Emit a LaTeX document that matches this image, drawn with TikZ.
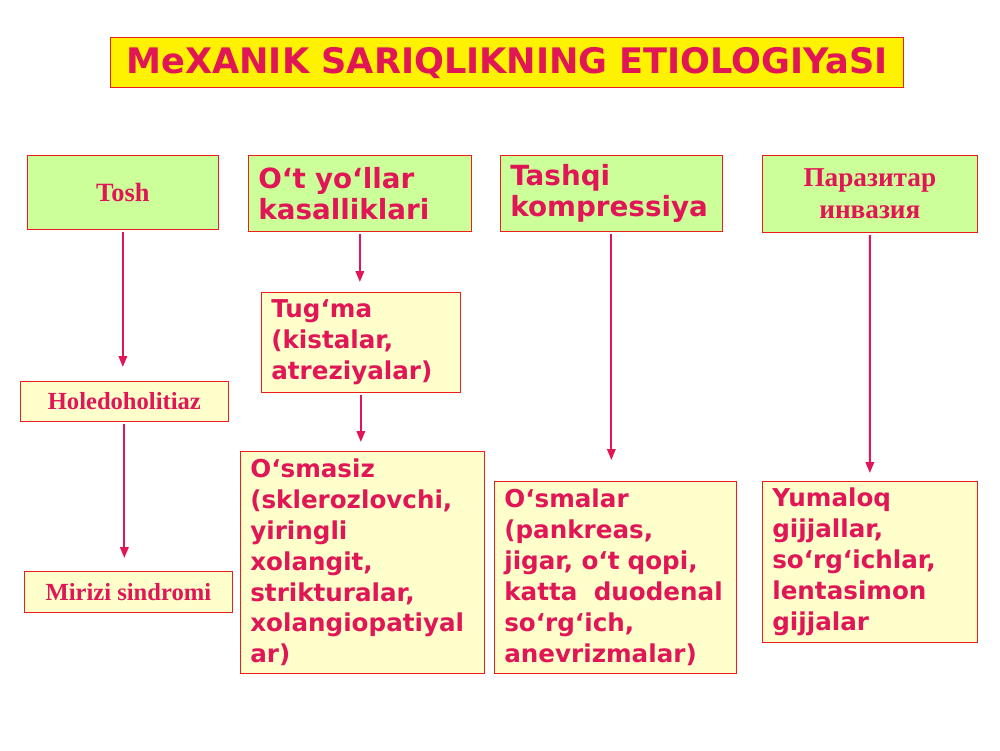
\documentclass[tikz,border=0pt]{standalone}
\usepackage{fontspec}
\setmainfont{Liberation Serif}
\newfontfamily\verd{DejaVu Sans}
\usepackage{tikz}
\usetikzlibrary{positioning,arrows.meta}

\definecolor{crim}{RGB}{224,22,86}
\definecolor{boxred}{RGB}{235,30,30}
\definecolor{lgreen}{RGB}{204,255,153}
\definecolor{lyellow}{RGB}{255,255,204}

\begin{document}
\begin{tikzpicture}[
  head/.style={draw=boxred, fill=lgreen, anchor=north west, text=crim, inner sep=0pt},
  leaf/.style={draw=boxred, fill=lyellow, anchor=north west, text=crim, inner sep=0pt},
  sans/.style={font=\verd\bfseries\fontsize{14}{17.6}\selectfont, align=left, inner xsep=0.2cm},
  serif/.style={font=\bfseries\fontsize{14}{17}\selectfont, align=center},
  arrow/.style={-{Triangle[length=0.22cm,width=0.17cm]}, draw=crim, line width=1.1pt, shorten <=0.05cm}
]
\useasboundingbox[fill=white] (0,0) rectangle (20,-15);

% Title
\node[draw=boxred, fill=yellow, thick, anchor=north west, minimum width=15.86cm, minimum height=1cm,
  text=crim, font=\verd\bfseries\fontsize{20}{22}\selectfont] (title) at (2.2,-0.74)
  {MeXANIK SARIQLIKNING ETIOLOGIYaSI};

% Top row
\node[head, serif, minimum width=3.82cm, minimum height=1.48cm, font=\bfseries\fontsize{15}{17}\selectfont] (tosh) at (0.54,-3.1) {Tosh};
\node[head, sans, text width=4.06cm, minimum height=1.52cm, font=\verd\bfseries\fontsize{15.8}{17.8}\selectfont] (otyol) at (4.96,-3.1) {O‘t yo‘llar\\kasalliklari};
\node[head, sans, text width=4.04cm, minimum height=1.52cm, font=\verd\bfseries\fontsize{15.8}{17.8}\selectfont] (tashqi) at (10.0,-3.1) {Tashqi\\kompressiya};
\node[head, serif, minimum width=4.3cm, minimum height=1.54cm, font=\bfseries\fontsize{15.5}{18}\selectfont] (paraz) at (15.24,-3.1) {Паразитар\\инвазия};

% Stone column
\node[leaf, serif, minimum width=4.16cm, minimum height=0.8cm] (holed) at (0.4,-7.62) {Holedoholitiaz};
\node[leaf, serif, minimum width=4.16cm, minimum height=0.82cm] (mirizi) at (0.48,-11.42) {Mirizi sindromi};

% Bile duct column
\node[leaf, sans, text width=3.58cm, minimum height=2.0cm, yshift=-0.06cm] (tugma) at (5.22,-5.78) {Tug‘ma\\(kistalar,\\atreziyalar)};
\node[leaf, sans, text width=4.48cm, minimum height=4.44cm] (osmasiz) at (4.8,-9.02)
  {O‘smasiz\\(sklerozlovchi,\\yiringli\\xolangit,\\strikturalar,\\xolangiopatiyal\\ar)};

% Compression and parasites
\node[leaf, sans, text width=4.44cm, minimum height=3.84cm] (osmalar) at (9.88,-9.62)
  {O‘smalar\\(pankreas,\\jigar, o‘t qopi,\\katta~ duodenal\\so‘rg‘ich,\\anevrizmalar)};
\node[leaf, sans, text width=3.9cm, minimum height=3.22cm] (yumaloq) at (15.24,-9.62)
  {Yumaloq\\gijjallar,\\so‘rg‘ichlar,\\lentasimon\\gijjalar};

% Arrows
\draw[arrow, shorten >=0.28cm] (tosh.south) -- (tosh.south |- holed.north);
\draw[arrow, shorten >=0.26cm] (holed.south) -- (holed.south |- mirizi.north);
\draw[arrow, shorten >=0.2cm] (otyol.south) -- (otyol.south |- tugma.north);
\draw[arrow, shorten >=0.18cm] (tugma.south) -- (tugma.south |- osmasiz.north);
\draw[arrow, shorten >=0.42cm] (tashqi.south) -- (tashqi.south |- osmalar.north);
\draw[arrow, shorten >=0.16cm] (paraz.south) -- (yumaloq.north);

\end{tikzpicture}
\end{document}
